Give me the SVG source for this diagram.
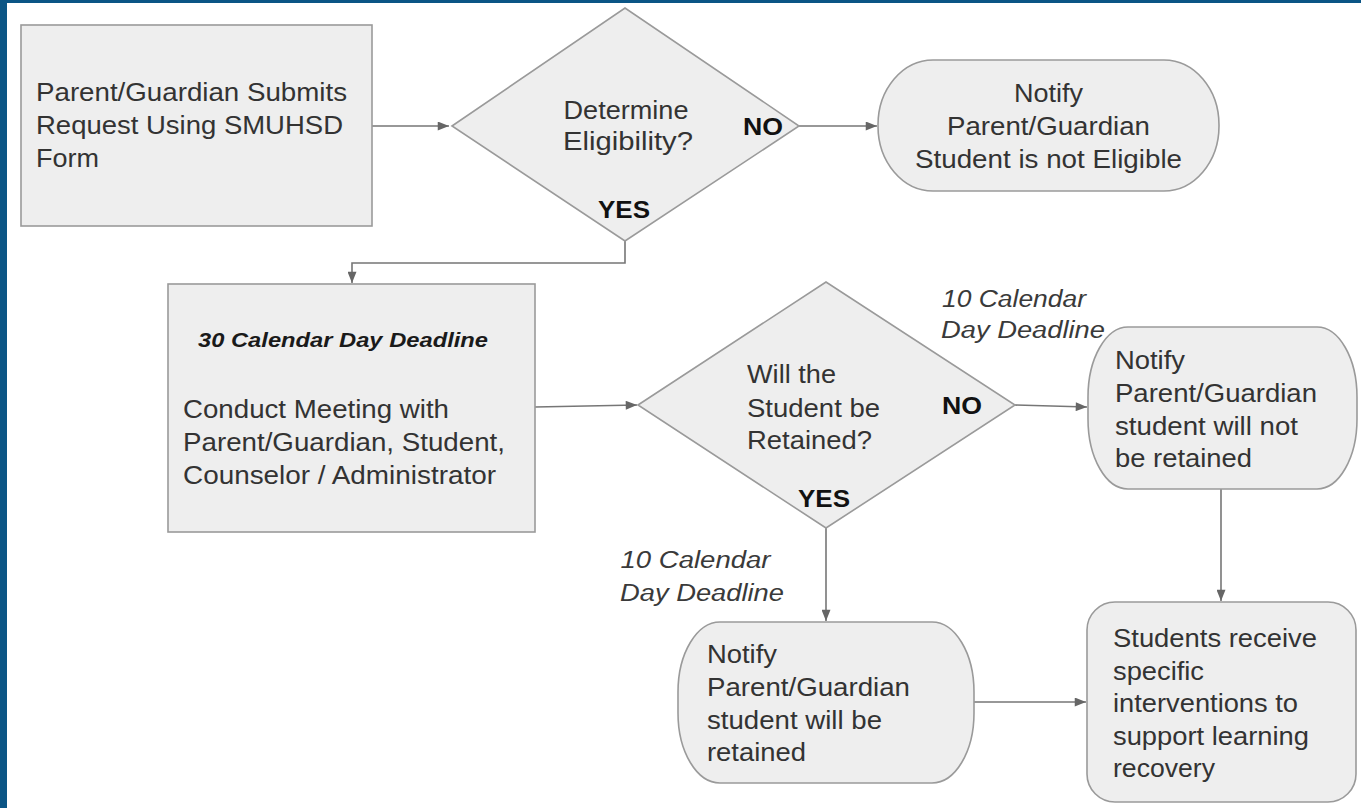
<svg xmlns="http://www.w3.org/2000/svg" width="1361" height="808" viewBox="0 0 1361 808">
<style>
  .node { fill: #eeeeee; stroke: #9a9a9a; stroke-width: 1.6; }
  .conn { fill: none; stroke: #767676; stroke-width: 1.6; }
  .t { font-family: "Liberation Sans", Arial, sans-serif; font-size: 25px; fill: #333333; }
  .td { font-family: "Liberation Sans", Arial, sans-serif; font-size: 26px; fill: #333333; }
  .lbl { font-family: "Liberation Sans", Arial, sans-serif; font-size: 24px; font-weight: bold; fill: #111111; }
  .it { font-family: "Liberation Sans", Arial, sans-serif; font-size: 23px; font-style: italic; fill: #3a3a3a; }
  .bi { font-family: "Liberation Sans", Arial, sans-serif; font-size: 21px; font-style: italic; font-weight: bold; fill: #1a1a1a; }
</style>
<defs>
  <marker id="arr" viewBox="0 0 10 8" refX="10" refY="4" markerWidth="12" markerHeight="9" markerUnits="userSpaceOnUse" orient="auto">
    <path d="M0,0 L10,4 L0,8 z" fill="#666666"/>
  </marker>
</defs>
<rect x="0" y="0" width="1361" height="808" fill="#ffffff"/>
<rect x="0" y="0" width="7" height="808" fill="#0b5585"/>
<rect x="0" y="0" width="1361" height="3" fill="#0b5585"/>

<g id="connectors">
  <path class="conn" d="M372,126 H449" marker-end="url(#arr)"/>
  <path class="conn" d="M799,126 H877" marker-end="url(#arr)"/>
  <path class="conn" d="M625,241 V263 H352 V283" marker-end="url(#arr)"/>
  <path class="conn" d="M535,407 L637,405" marker-end="url(#arr)"/>
  <path class="conn" d="M1015,405 L1087,407" marker-end="url(#arr)"/>
  <path class="conn" d="M1221,489 V601" marker-end="url(#arr)"/>
  <path class="conn" d="M826,528 V621" marker-end="url(#arr)"/>
  <path class="conn" d="M974,702 H1086" marker-end="url(#arr)"/>
</g>

<g id="n1">
  <rect class="node" x="21" y="25" width="351" height="201"/>
  <text class="t" x="36" y="101" textLength="311" lengthAdjust="spacingAndGlyphs">Parent/Guardian Submits</text>
  <text class="t" x="36" y="134" textLength="307" lengthAdjust="spacingAndGlyphs">Request Using SMUHSD</text>
  <text class="t" x="36" y="167" textLength="63" lengthAdjust="spacingAndGlyphs">Form</text>
</g>

<g id="n2">
  <polygon class="node" points="452,126 625,8 799,126 625,241"/>
  <text class="td" x="626" y="119" text-anchor="middle" textLength="125" lengthAdjust="spacingAndGlyphs">Determine</text>
  <text class="td" x="628" y="150" text-anchor="middle" textLength="130" lengthAdjust="spacingAndGlyphs">Eligibility?</text>
</g>

<g id="n3">
  <rect class="node" x="878" y="60" width="341" height="131" rx="55" ry="65"/>
  <text class="t" x="1048.5" y="101.5" text-anchor="middle" textLength="69" lengthAdjust="spacingAndGlyphs">Notify</text>
  <text class="t" x="1048.5" y="134.5" text-anchor="middle" textLength="203" lengthAdjust="spacingAndGlyphs">Parent/Guardian</text>
  <text class="t" x="1048.5" y="168" text-anchor="middle" textLength="267" lengthAdjust="spacingAndGlyphs">Student is not Eligible</text>
</g>

<g id="n4">
  <rect class="node" x="168" y="284" width="367" height="248"/>
  <text class="bi" x="198" y="347" textLength="290" lengthAdjust="spacingAndGlyphs">30 Calendar Day Deadline</text>
  <text class="t" x="183" y="418" textLength="266" lengthAdjust="spacingAndGlyphs">Conduct Meeting with</text>
  <text class="t" x="183" y="451" textLength="322" lengthAdjust="spacingAndGlyphs">Parent/Guardian, Student,</text>
  <text class="t" x="183" y="484" textLength="313" lengthAdjust="spacingAndGlyphs">Counselor / Administrator</text>
</g>

<g id="n5">
  <polygon class="node" points="638,405 826,282 1015,405 826,528"/>
  <text class="td" x="747" y="383" textLength="89" lengthAdjust="spacingAndGlyphs">Will the</text>
  <text class="td" x="747" y="416.5" textLength="133" lengthAdjust="spacingAndGlyphs">Student be</text>
  <text class="td" x="747" y="449" textLength="125" lengthAdjust="spacingAndGlyphs">Retained?</text>
</g>

<g id="n6">
  <rect class="node" x="1088" y="327" width="269" height="162" rx="40" ry="70"/>
  <text class="t" x="1115" y="369" textLength="70" lengthAdjust="spacingAndGlyphs">Notify</text>
  <text class="t" x="1115" y="401.5" textLength="202" lengthAdjust="spacingAndGlyphs">Parent/Guardian</text>
  <text class="t" x="1115" y="434.5" textLength="183" lengthAdjust="spacingAndGlyphs">student will not</text>
  <text class="t" x="1115" y="467" textLength="137" lengthAdjust="spacingAndGlyphs">be retained</text>
</g>

<g id="n7">
  <rect class="node" x="678" y="622" width="296" height="161" rx="42" ry="70"/>
  <text class="t" x="707" y="663" textLength="70" lengthAdjust="spacingAndGlyphs">Notify</text>
  <text class="t" x="707" y="696" textLength="203" lengthAdjust="spacingAndGlyphs">Parent/Guardian</text>
  <text class="t" x="707" y="729" textLength="175" lengthAdjust="spacingAndGlyphs">student will be</text>
  <text class="t" x="707" y="761" textLength="99" lengthAdjust="spacingAndGlyphs">retained</text>
</g>

<g id="n8">
  <rect class="node" x="1087" y="602" width="269" height="200" rx="28" ry="28"/>
  <text class="t" x="1113" y="647" textLength="204" lengthAdjust="spacingAndGlyphs">Students receive</text>
  <text class="t" x="1113" y="679.5" textLength="91" lengthAdjust="spacingAndGlyphs">specific</text>
  <text class="t" x="1113" y="712" textLength="185" lengthAdjust="spacingAndGlyphs">interventions to</text>
  <text class="t" x="1113" y="745" textLength="196" lengthAdjust="spacingAndGlyphs">support learning</text>
  <text class="t" x="1113" y="777" textLength="102" lengthAdjust="spacingAndGlyphs">recovery</text>
</g>

<g id="edge-labels">
  <text class="lbl" x="743" y="135" textLength="40" lengthAdjust="spacingAndGlyphs">NO</text>
  <text class="lbl" x="598" y="218" textLength="52" lengthAdjust="spacingAndGlyphs">YES</text>
  <text class="lbl" x="942" y="414" textLength="40" lengthAdjust="spacingAndGlyphs">NO</text>
  <text class="lbl" x="798" y="507" textLength="52" lengthAdjust="spacingAndGlyphs">YES</text>
  <text class="it" x="942" y="306.5" textLength="144" lengthAdjust="spacingAndGlyphs">10 Calendar</text>
  <text class="it" x="941" y="338" textLength="164" lengthAdjust="spacingAndGlyphs">Day Deadline</text>
  <text class="it" x="620.5" y="568" textLength="150" lengthAdjust="spacingAndGlyphs">10 Calendar</text>
  <text class="it" x="620" y="600.5" textLength="164" lengthAdjust="spacingAndGlyphs">Day Deadline</text>
</g>
</svg>
